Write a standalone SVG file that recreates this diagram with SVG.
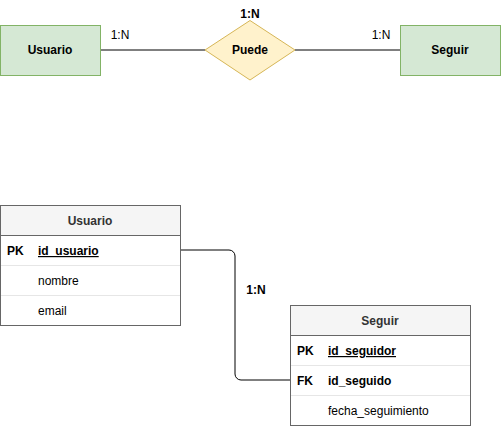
<svg xmlns="http://www.w3.org/2000/svg" width="501" height="426" viewBox="0 0 501 426">
<style>
text{font-family:"Liberation Sans",Arial,Helvetica,sans-serif;font-size:12px;fill:#000}
.b{font-weight:bold}
.ent{fill:#d5e8d4;stroke:#82b366;stroke-width:1}
.rel{fill:#fff2cc;stroke:#d6b656;stroke-width:1}
.tbl{fill:#fff;stroke:#666;stroke-width:1}
.hdr{fill:#f5f5f5;stroke:#666;stroke-width:1}
.div{stroke:#e6e6e6;stroke-width:1}
.hdrt{fill:#333;font-weight:bold}
.u{text-decoration:underline}
.con{fill:none;stroke:#000;stroke-width:1}
</style>
<rect width="501" height="426" fill="#fff"/>
<g id="connectors">
<path class="con" d="M100,50H205"/>
<path class="con" d="M295,50H400"/>
<path class="con" d="M180,250H229a6,6 0 0 1 6,6V374a6,6 0 0 0 6,6H290"/>
<text x="120" y="39" text-anchor="middle">1:N</text>
<text x="250" y="18" text-anchor="middle" class="b">1:N</text>
<text x="381" y="39" text-anchor="middle">1:N</text>
<text x="256" y="294" text-anchor="middle" class="b">1:N</text>
</g>
<g id="er-usuario">
<rect class="ent" x="0.5" y="25.5" width="100" height="50"/>
<text x="50" y="54" text-anchor="middle" class="b">Usuario</text>
</g>
<g id="er-puede">
<path class="rel" d="M250,20.5L295,50L250,80L205,50Z"/>
<text x="250" y="54" text-anchor="middle" class="b">Puede</text>
</g>
<g id="er-seguir">
<rect class="ent" x="400.5" y="25.5" width="100" height="50"/>
<text x="450" y="54" text-anchor="middle" class="b">Seguir</text>
</g>
<g id="table-usuario">
<rect class="tbl" x="0.5" y="205.5" width="180" height="120"/>
<rect class="hdr" x="0.5" y="205.5" width="180" height="30"/>
<line class="div" x1="1" y1="265.5" x2="180" y2="265.5"/>
<line class="div" x1="1" y1="295.5" x2="180" y2="295.5"/>
<text x="90" y="225" text-anchor="middle" class="hdrt">Usuario</text>
<text x="7" y="255" class="b">PK</text>
<text x="38" y="255" class="b u">id_usuario</text>
<text x="38" y="285">nombre</text>
<text x="38" y="315">email</text>
</g>
<g id="table-seguir">
<rect class="tbl" x="290.5" y="305.5" width="180" height="120"/>
<rect class="hdr" x="290.5" y="305.5" width="180" height="30"/>
<line class="div" x1="291" y1="365.5" x2="470" y2="365.5"/>
<line class="div" x1="291" y1="395.5" x2="470" y2="395.5"/>
<text x="380" y="325" text-anchor="middle" class="hdrt">Seguir</text>
<text x="297" y="355" class="b">PK</text>
<text x="328" y="355" class="b u">id_seguidor</text>
<text x="297" y="385" class="b">FK</text>
<text x="328" y="385" class="b">id_seguido</text>
<text x="328" y="415">fecha_seguimiento</text>
</g>
</svg>
